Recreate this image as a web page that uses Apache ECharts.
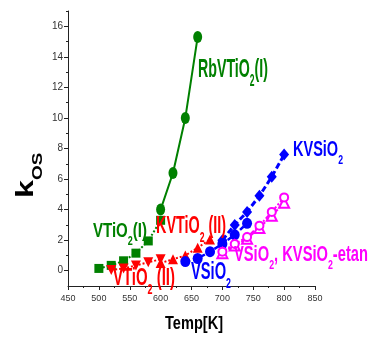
<!DOCTYPE html>
<html>
<head>
<meta charset="utf-8">
<script src="https://cdn.jsdelivr.net/npm/echarts@6/dist/echarts.min.js"></script>
<style>html,body{margin:0;padding:0;background:#fff}#c{width:378px;height:338px}</style>
</head>
<body>
<div id="c"></div>
<script>
// ---- data ----
const tempVTiO2I = [500, 520, 540, 560, 580, 600];
const kVTiO2I    = [0.15, 0.35, 0.65, 1.15, 1.95, 3.3];
const tempRbVTiO2I = [600, 620, 640, 660];
const kRbVTiO2I    = [4.0, 6.4, 10.0, 15.3];
const tempVTiO2II = [520, 540, 560, 580, 600];
const kVTiO2II    = [0.05, 0.15, 0.35, 0.55, 0.75];
const tempKVTiO2II = [600, 620, 640, 660, 680];
const kKVTiO2II    = [0.5, 0.75, 1.0, 1.5, 2.05];
const tempVSiO2 = [640, 660, 680, 700, 720, 740];
const kVSiO2    = [0.6, 0.8, 1.25, 1.75, 2.35, 3.1];
const tempKVSiO2 = [700, 720, 740, 760, 780, 800];
const kKVSiO2    = [2.0, 3.0, 3.85, 4.9, 6.15, 7.6];
const tempEtanA = [700, 720, 740, 760, 780, 800];
const kEtanA    = [1.15, 1.65, 2.1, 2.8, 3.6, 4.45];
const tempEtanB = [700, 720, 740, 760, 780, 800];
const kEtanB    = [1.25, 1.75, 2.2, 2.95, 3.85, 4.8];
const yMajorTicks = [0, 2, 4, 6, 8, 10, 12, 14, 16];
const yMinorTicks = [1, 3, 5, 7, 9, 11, 13, 15, 17];

const zip = (xs, ys) => xs.map((x, i) => [x, ys[i]]);

const GREEN = '#008000', RED = '#ff0000', BLUE = '#0000ff', MAG = '#ff00ff';
const FF = '"Liberation Sans", Arial, sans-serif';

const cv = document.createElement('canvas').getContext('2d');
function measure(t, fs, bold) {
  cv.font = (bold ? 'bold ' : '') + fs + 'px ' + FF;
  return cv.measureText(t).width;
}
// parts: [text, isSub]
function label(parts, x0, x1, base, fs, color, bold, subDrop) {
  const sfs = fs * 0.6;
  const drop = subDrop != null ? subDrop : fs * 0.33;
  let cx = 0; const children = [];
  parts.forEach(([t, sub]) => {
    const f = sub ? sfs : fs;
    children.push({
      type: 'text', x: cx, y: (sub ? drop : 0) - 0.35 * f, z: 100,
      style: { text: t, fontSize: f, fontFamily: FF, fontWeight: bold ? 'bold' : 'normal',
               fill: color, align: 'left', verticalAlign: 'middle' }
    });
    cx += measure(t, f, bold);
  });
  return { type: 'group', x: x0, y: base, scaleX: (x1 - x0) / cx, z: 100, children };
}

const graphics = [
  label([['RbVTiO'], ['2', 1], ['(I)']], 198, 268, 79, 26, GREEN, true),
  label([['KVSiO'], ['2', 1]], 293, 343, 158, 22, BLUE, true),
  label([['VTiO'], ['2', 1], ['(I)']], 93, 147, 239, 21, GREEN, true),
  label([['KVTiO'], ['2', 1], [' (II)']], 156, 226, 235, 23, RED, true),
  label([['VTiO'], ['2', 1], [' (II)']], 113, 175, 287, 24, RED, true),
  label([['VSiO'], ['2', 1]], 191, 231, 281, 24, BLUE, true),
  label([['VSiO'], ['2', 1], [', KVSiO'], ['2', 1], ['-etan']], 234, 368, 263, 22, MAG, true),
  label([['Temp[K]']], 165, 223, 330, 19, '#000', true),
];
// y axis name "kOS" rotated
(function () {
  const fsK = 24, fsO = 14;
  const wK = measure('k', fsK, true);
  graphics.push({
    type: 'group', x: 35, y: 198, rotation: Math.PI / 2, scaleX: 1.35, z: 100,
    children: [
      { type: 'text', x: 0, y: -0.35 * fsK, style: { text: 'k', fontSize: fsK, fontWeight: 'bold', fontFamily: FF, fill: '#000', verticalAlign: 'middle' } },
      { type: 'text', x: wK, y: 8 - 0.35 * fsO, style: { text: 'OS', fontSize: fsO, fontWeight: 'bold', fontFamily: FF, fill: '#000', verticalAlign: 'middle' } }
    ]
  });
})();

function ser(name, xs, ys, color, symbol, size, lineType, width, extra) {
  return Object.assign({
    name, type: 'line', data: zip(xs, ys), symbol, symbolSize: size,
    itemStyle: { color }, lineStyle: { color, width, type: lineType }, z: 3
  }, extra || {});
}

const series = [
  ser('VTiO2(I)', tempVTiO2I, kVTiO2I, GREEN, 'rect', 9, 'dotted', 2),
  ser('RbVTiO2(I)', tempRbVTiO2I, kRbVTiO2I, GREEN, 'circle', [9, 12], 'solid', 2),
  ser('VTiO2(II)', tempVTiO2II, kVTiO2II, RED, 'triangle', 10, 'dotted', 2, { symbolRotate: 180 }),
  ser('KVTiO2(II)', tempKVTiO2II, kKVTiO2II, RED, 'triangle', 10, 'dotted', 2),
  ser('VSiO2', tempVSiO2, kVSiO2, BLUE, 'circle', [10, 11], [5, 3], 2.5),
  ser('KVSiO2', tempKVSiO2, kKVSiO2, BLUE, 'diamond', [10, 12], [6, 3], 3),
  ser('VSiO2-etan', tempEtanA, kEtanA, MAG, 'emptyTriangle', 10, [5, 2, 2, 2], 2, { itemStyle: { color: MAG, borderWidth: 1 } }),
  ser('KVSiO2-etan', tempEtanB, kEtanB, MAG, 'emptyCircle', 8, [5, 2, 2, 2], 2, { itemStyle: { color: MAG, borderWidth: 1 } }),
];

const axisColor = '#222';
const chart = echarts.init(document.getElementById('c'), null, { renderer: 'canvas' });
chart.setOption({
  animation: false,
  backgroundColor: '#fff',
  grid: { left: 68, right: 63, top: 11, bottom: 52, containLabel: false },
  xAxis: {
    type: 'value', min: 450, max: 850, interval: 50,
    axisLine: { onZero: false, lineStyle: { color: axisColor, width: 1 } },
    axisTick: { show: true, inside: false, length: 4, lineStyle: { color: axisColor } },
    minorTick: { show: true, splitNumber: 2, length: 2, lineStyle: { color: axisColor } },
    axisLabel: { fontSize: 9, color: '#333', margin: 8, fontFamily: '"Liberation Sans Narrow", "Liberation Sans", Arial' },
    splitLine: { show: false }
  },
  yAxis: [
    {
      type: 'value', min: -1, max: 17, position: 'left',
      axisLine: { show: true, onZero: false, lineStyle: { color: axisColor, width: 1 } },
      axisTick: { show: true, inside: false, length: 4, customValues: yMajorTicks, lineStyle: { color: axisColor } },
      axisLabel: { fontSize: 10, color: '#333', margin: 5, customValues: yMajorTicks, fontFamily: '"Liberation Sans Narrow", "Liberation Sans", Arial' },
      splitLine: { show: false }
    },
    {
      type: 'value', min: -1, max: 17, position: 'left',
      axisLine: { show: false, onZero: false },
      axisTick: { show: true, inside: false, length: 2, customValues: yMinorTicks, lineStyle: { color: axisColor } },
      axisLabel: { show: false },
      splitLine: { show: false }
    }
  ],
  series,
  graphic: graphics
});
</script>
</body>
</html>
